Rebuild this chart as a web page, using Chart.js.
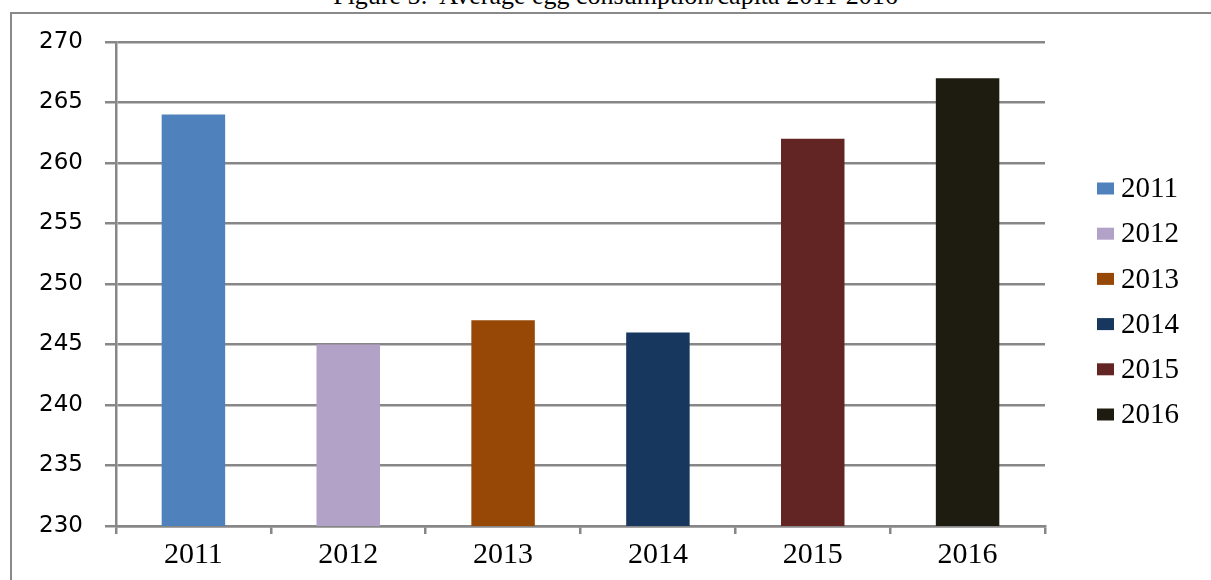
<!DOCTYPE html>
<html>
<head>
<meta charset="utf-8">
<script src="https://cdn.jsdelivr.net/npm/chart.js@4.4.1/dist/chart.umd.min.js"></script>
<style>
html,body{margin:0;padding:0;background:#fff;overflow:hidden}
#wrap{position:relative;width:1211px;height:580px}
#frame{position:absolute;left:10px;top:12px;width:1220px;height:620px;border:2px solid #898989;box-sizing:border-box}
#title{position:absolute;left:0;width:1231px;top:-19px;text-align:center;font-family:"Liberation Serif",serif;font-size:26px;line-height:30px;color:#000;white-space:pre}
#c{position:absolute;left:0;top:0}
</style>
</head>
<body>
<div id="wrap">
  <div id="title">Figure 5:  Average egg consumption/capita 2011-2016</div>
  <div id="frame"></div>
  <canvas id="c" width="1211" height="580"></canvas>
</div>
<script>
const categories = ['2011', '2012', '2013', '2014', '2015', '2016'];
const consumption = [264, 245, 247, 246, 262, 267];
const barColors = ['#4F81BD', '#B3A2C7', '#974806', '#17375E', '#632523', '#1E1C11'];
const yMin = 230;
const yMax = 270;
const yStep = 5;

const gridColor = '#878787';
const gridWidth = 2.5;

const sideLegend = {
  id: 'sideLegend',
  afterDraw(chart) {
    const ctx = chart.ctx;
    const area = chart.chartArea;
    ctx.save();
    ctx.font = '29px "Liberation Serif", serif';
    ctx.textBaseline = 'middle';
    ctx.textAlign = 'left';
    categories.forEach((c, i) => {
      const y = 188.5 + i * 45.2;
      ctx.fillStyle = barColors[i];
      ctx.fillRect(area.right + 52, y - 6, 17, 12);
      ctx.fillStyle = '#000';
      ctx.fillText(c, area.right + 76, y + 1);
    });
    ctx.restore();
  }
};

new Chart(document.getElementById('c'), {
  type: 'bar',
  data: {
    labels: categories,
    datasets: [{
      label: 'Average egg consumption/capita',
      data: consumption,
      backgroundColor: barColors,
      borderWidth: 0,
      categoryPercentage: 1,
      barPercentage: 0.41
    }]
  },
  options: {
    responsive: false,
    animation: false,
    layout: { padding: { top: 42, right: 166, left: 0, bottom: 0 } },
    plugins: {
      legend: { display: false },
      tooltip: { enabled: false },
      title: { display: false }
    },
    scales: {
      x: {
        offset: true,
        grid: {
          display: true,
          drawOnChartArea: false,
          drawTicks: true,
          tickLength: 8,
          color: gridColor,
          lineWidth: gridWidth,
          offset: true
        },
        border: { display: true, color: gridColor, width: gridWidth },
        ticks: {
          color: '#000',
          font: { family: '"Liberation Serif", serif', size: 30 },
          padding: 3,
          maxRotation: 0
        },
        afterFit(scale) { scale.height = 54; }
      },
      y: {
        min: yMin,
        max: yMax,
        grid: {
          color: gridColor,
          lineWidth: gridWidth,
          drawTicks: true,
          tickLength: 11
        },
        border: { display: true, color: gridColor, width: gridWidth },
        ticks: {
          stepSize: yStep,
          color: '#000',
          font: { family: '"DejaVu Sans", sans-serif', size: 23 },
          padding: 22
        },
        afterFit(scale) { scale.width = 116; }
      }
    }
  },
  plugins: [sideLegend]
});
</script>
</body>
</html>
